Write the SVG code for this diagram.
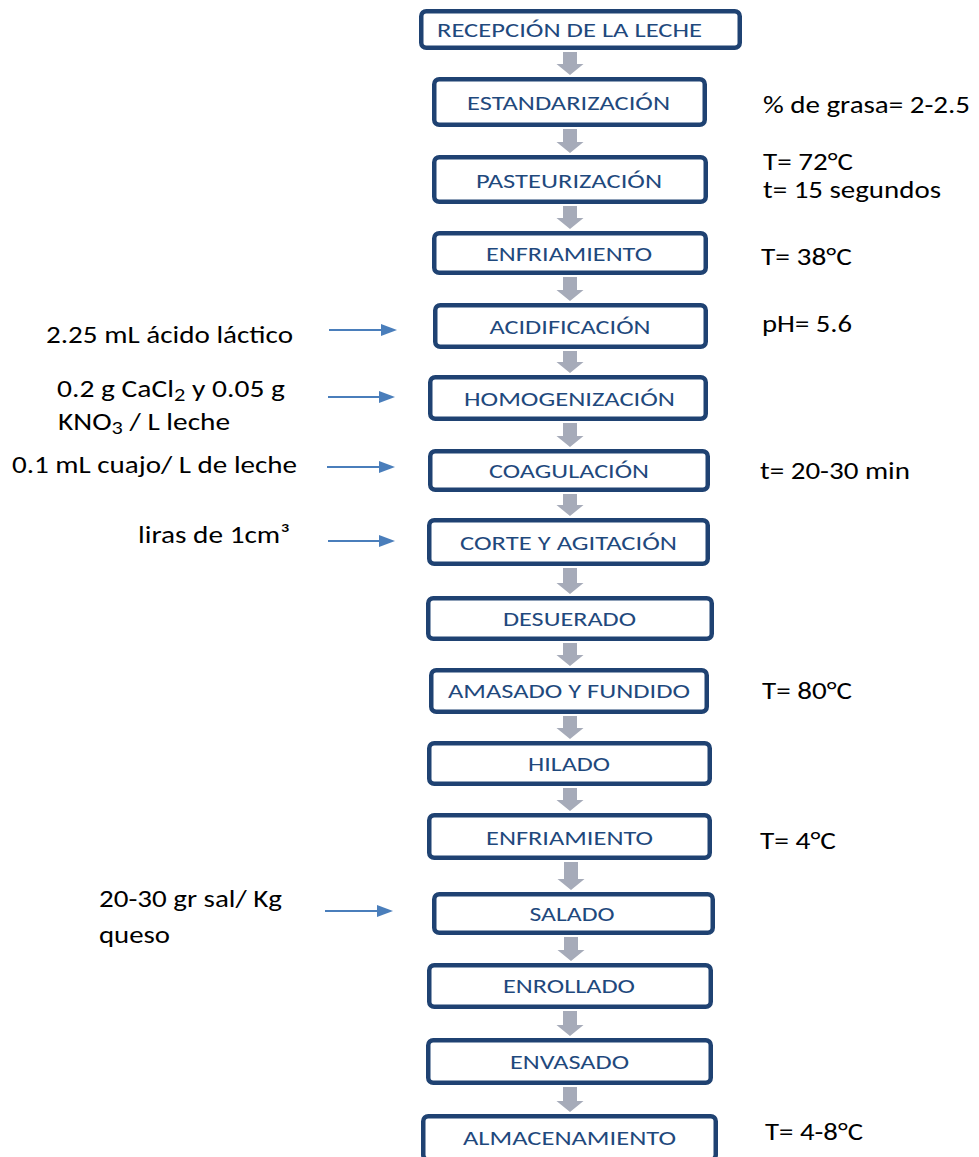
<svg xmlns="http://www.w3.org/2000/svg" width="979" height="1157" viewBox="0 0 979 1157">
<style>
  .box { fill: #ffffff; stroke: #1f4272; stroke-width: 4.5; }
  .lbl { font-family: Carlito, Lato, "Open Sans", sans-serif; font-size: 20px; fill: #1f497d; text-anchor: middle; }
  .note { font-family: Carlito, Lato, "Open Sans", sans-serif; font-size: 25px; fill: #000000; }
  .flow { fill: #a6abb9; }
  .feed { stroke: #4a7ebb; stroke-width: 2; fill: none; marker-end: url(#head); }
</style>
<defs>
  <marker id="head" markerUnits="userSpaceOnUse" markerWidth="16" markerHeight="12" refX="2" refY="6" orient="auto">
    <path d="M0,0 L16,6 L0,12 Z" fill="#4a7ebb"/>
  </marker>
</defs>
<rect width="979" height="1157" fill="#ffffff"/>

<g id="connectors">
  <path class="flow" d="M563,52 H577 V64 H583.5 L570,75 L556.5,64 H563 Z"/>
  <path class="flow" d="M563,129 H577 V142 H583.5 L570,153 L556.5,142 H563 Z"/>
  <path class="flow" d="M563,206 H577 V218 H583.5 L570,229 L556.5,218 H563 Z"/>
  <path class="flow" d="M563,277 H577 V290 H583.5 L570,301 L556.5,290 H563 Z"/>
  <path class="flow" d="M563,351 H577 V362 H583.5 L570,373 L556.5,362 H563 Z"/>
  <path class="flow" d="M563,423 H577 V436 H583.5 L570,447 L556.5,436 H563 Z"/>
  <path class="flow" d="M563,494 H577 V505 H583.5 L570,516 L556.5,505 H563 Z"/>
  <path class="flow" d="M563,568 H577 V583 H583.5 L570,594 L556.5,583 H563 Z"/>
  <path class="flow" d="M563,643 H577 V655 H583.5 L570,666 L556.5,655 H563 Z"/>
  <path class="flow" d="M563,716 H577 V728 H583.5 L570,739 L556.5,728 H563 Z"/>
  <path class="flow" d="M563,788 H577 V800 H583.5 L570,811 L556.5,800 H563 Z"/>
  <path class="flow" d="M564,862 H578 V879 H584.5 L571,890 L557.5,879 H564 Z"/>
  <path class="flow" d="M564,937 H578 V950 H584.5 L571,961 L557.5,950 H564 Z"/>
  <path class="flow" d="M563,1011 H577 V1025 H583.5 L570,1036 L556.5,1025 H563 Z"/>
  <path class="flow" d="M563,1087 H577 V1101 H583.5 L570,1112 L556.5,1101 H563 Z"/>

  <line class="feed" x1="329" y1="330" x2="383" y2="330"/>
  <line class="feed" x1="328" y1="397" x2="381" y2="397"/>
  <line class="feed" x1="327" y1="467" x2="381" y2="467"/>
  <line class="feed" x1="328" y1="541" x2="381" y2="541"/>
  <line class="feed" x1="325" y1="911" x2="379" y2="911"/>
</g>

<g id="n1"><rect class="box" x="421.25" y="11.25" width="318.5" height="36.5" rx="5"/><text class="lbl" x="569.5" y="36.5" textLength="265" lengthAdjust="spacingAndGlyphs">RECEPCIÓN DE LA LECHE</text></g>
<g id="n2"><rect class="box" x="434.25" y="79.25" width="270.5" height="45.5" rx="5"/><text class="lbl" x="568.5" y="109.5" textLength="203" lengthAdjust="spacingAndGlyphs">ESTANDARIZACIÓN</text></g>
<g id="n3"><rect class="box" x="434.25" y="157.25" width="271.5" height="44.5" rx="5"/><text class="lbl" x="569" y="187.5" textLength="186" lengthAdjust="spacingAndGlyphs">PASTEURIZACIÓN</text></g>
<g id="n4"><rect class="box" x="434.25" y="233.25" width="271.5" height="39.5" rx="5"/><text class="lbl" x="569" y="260.5" textLength="166" lengthAdjust="spacingAndGlyphs">ENFRIAMIENTO</text></g>
<g id="n5"><rect class="box" x="435.25" y="305.25" width="270.5" height="41.5" rx="5"/><text class="lbl" x="570" y="333.5" textLength="161" lengthAdjust="spacingAndGlyphs">ACIDIFICACIÓN</text></g>
<g id="n6"><rect class="box" x="430.25" y="377.25" width="275.5" height="41.5" rx="5"/><text class="lbl" x="569.5" y="405.5" textLength="211" lengthAdjust="spacingAndGlyphs">HOMOGENIZACIÓN</text></g>
<g id="n7"><rect class="box" x="430.25" y="451.25" width="277.5" height="38.5" rx="5"/><text class="lbl" x="569" y="477.5" textLength="160" lengthAdjust="spacingAndGlyphs">COAGULACIÓN</text></g>
<g id="n8"><rect class="box" x="429.25" y="520.25" width="278.5" height="43.5" rx="5"/><text class="lbl" x="568.5" y="549.5" textLength="217" lengthAdjust="spacingAndGlyphs">CORTE Y AGITACIÓN</text></g>
<g id="n9"><rect class="box" x="428.25" y="598.25" width="283.5" height="40.5" rx="5"/><text class="lbl" x="569.5" y="626" textLength="133" lengthAdjust="spacingAndGlyphs">DESUERADO</text></g>
<g id="n10"><rect class="box" x="431.25" y="670.25" width="275.5" height="41.5" rx="5"/><text class="lbl" x="569" y="698" textLength="242" lengthAdjust="spacingAndGlyphs">AMASADO Y FUNDIDO</text></g>
<g id="n11"><rect class="box" x="429.25" y="743.25" width="280.5" height="40.5" rx="5"/><text class="lbl" x="569" y="770.5" textLength="82" lengthAdjust="spacingAndGlyphs">HILADO</text></g>
<g id="n12"><rect class="box" x="429.25" y="815.25" width="280.5" height="42.5" rx="5"/><text class="lbl" x="569.5" y="844.5" textLength="167" lengthAdjust="spacingAndGlyphs">ENFRIAMIENTO</text></g>
<g id="n13"><rect class="box" x="434.25" y="894.25" width="278.5" height="38.5" rx="5"/><text class="lbl" x="572" y="920.5" textLength="85" lengthAdjust="spacingAndGlyphs">SALADO</text></g>
<g id="n14"><rect class="box" x="429.25" y="965.25" width="281.5" height="41.5" rx="5"/><text class="lbl" x="569" y="993" textLength="132" lengthAdjust="spacingAndGlyphs">ENROLLADO</text></g>
<g id="n15"><rect class="box" x="428.25" y="1040.25" width="282.5" height="42.5" rx="5"/><text class="lbl" x="569.5" y="1069" textLength="119" lengthAdjust="spacingAndGlyphs">ENVASADO</text></g>
<g id="n16"><rect class="box" x="423.25" y="1116.25" width="292.5" height="43.5" rx="5"/><text class="lbl" x="569.5" y="1145" textLength="213" lengthAdjust="spacingAndGlyphs">ALMACENAMIENTO</text></g>

<g id="notes-left">
  <text class="note" x="46" y="343" textLength="247" lengthAdjust="spacingAndGlyphs">2.25 mL ácido láctico</text>
  <text class="note" x="57" y="397" textLength="228" lengthAdjust="spacingAndGlyphs">0.2 g CaCl<tspan font-size="19" dy="4">2</tspan><tspan dy="-4"> y 0.05 g</tspan></text>
  <text class="note" x="58" y="430" textLength="172" lengthAdjust="spacingAndGlyphs">KNO<tspan font-size="19" dy="4">3</tspan><tspan dy="-4"> / L leche</tspan></text>
  <text class="note" x="12" y="473" textLength="285" lengthAdjust="spacingAndGlyphs">0.1 mL cuajo/ L de leche</text>
  <text class="note" x="138" y="543" textLength="152" lengthAdjust="spacingAndGlyphs">liras de 1cm³</text>
  <text class="note" x="99" y="907" textLength="183" lengthAdjust="spacingAndGlyphs">20-30 gr sal/ Kg</text>
  <text class="note" x="99" y="943" textLength="71" lengthAdjust="spacingAndGlyphs">queso</text>
</g>

<g id="notes-right">
  <text class="note" x="763" y="113" textLength="207" lengthAdjust="spacingAndGlyphs">% de grasa= 2-2.5</text>
  <text class="note" x="763" y="170" textLength="90" lengthAdjust="spacingAndGlyphs">T= 72°C</text>
  <text class="note" x="763" y="198" textLength="178" lengthAdjust="spacingAndGlyphs">t= 15 segundos</text>
  <text class="note" x="761" y="265" textLength="91" lengthAdjust="spacingAndGlyphs">T= 38°C</text>
  <text class="note" x="762" y="332" textLength="90" lengthAdjust="spacingAndGlyphs">pH= 5.6</text>
  <text class="note" x="760" y="479" textLength="150" lengthAdjust="spacingAndGlyphs">t= 20-30 min</text>
  <text class="note" x="762" y="699" textLength="90" lengthAdjust="spacingAndGlyphs">T= 80°C</text>
  <text class="note" x="760" y="849" textLength="76" lengthAdjust="spacingAndGlyphs">T= 4°C</text>
  <text class="note" x="765" y="1140" textLength="98" lengthAdjust="spacingAndGlyphs">T= 4-8°C</text>
</g>
</svg>
